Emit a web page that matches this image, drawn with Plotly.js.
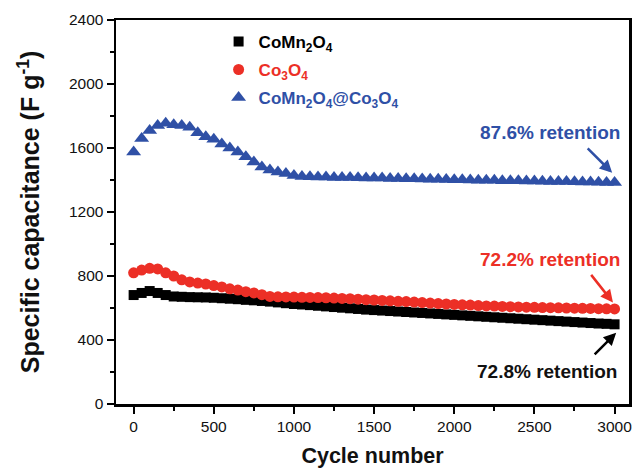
<!DOCTYPE html>
<html>
<head>
<meta charset="utf-8">
<script src="https://cdn.plot.ly/plotly-3.0.1.min.js"></script>
<style>html,body{margin:0;padding:0;background:#fff;}#chart{width:638px;height:470px;}</style>
</head>
<body>
<div id="chart"></div>
<script>
var cycles = [0,50,100,150,200,250,300,350,400,450,500,550,600,650,700,750,800,850,900,950,1000,
  1050,1100,1150,1200,1250,1300,1350,1400,1450,1500,1550,1600,1650,1700,1750,1800,1850,1900,1950,2000,
  2050,2100,2150,2200,2250,2300,2350,2400,2450,2500,2550,2600,2650,2700,2750,2800,2850,2900,2950,3000];

var comn2o4 = [681,694,706,694,681,672,670,668,667,666,664,661,658,655,651,648,644,640,635,630,625,
  622,618,614,610,606,602,598,594,590,587,584,581,578,575,572,569,566,563,560,557,
  554,551,548,545,542,539,536,533,530,527,524,521,518,515,512,509,506,503,501,498];

var co3o4 = [820,837,848,844,820,800,776,763,756,750,740,732,720,712,702,694,683,672,670,669,668,
  667,666,665,664,662,660,658,655,652,650,647,645,642,640,637,634,631,628,625,622,
  620,618,615,613,612,610,608,607,605,604,603,602,601,600,599,598,597,596,595,594];

var composite = [1575,1660,1710,1740,1755,1745,1740,1730,1695,1670,1655,1625,1600,1575,1545,1512,1482,1462,1450,1440,1428,
  1422,1420,1418,1418,1416,1415,1415,1414,1413,1412,1412,1410,1410,1408,1408,1406,1405,1405,1403,1402,
  1401,1400,1399,1398,1398,1396,1395,1395,1394,1393,1392,1391,1390,1390,1389,1388,1387,1386,1385,1384];

var seriesNames = ['CoMn<sub>2</sub>O<sub>4</sub>', 'Co<sub>3</sub>O<sub>4</sub>', 'CoMn<sub>2</sub>O<sub>4</sub>@Co<sub>3</sub>O<sub>4</sub>'];
var retentionLabels = ['72.8% retention', '72.2% retention', '87.6% retention'];

var BLACK = '#000000', RED = '#EC2F26', BLUE = '#2F50A6';
var FONT = 'Liberation Sans, Arial, sans-serif';

function span(c, t){ return '<span style="color:' + c + '">' + t + '</span>'; }

var traces = [
  {x: cycles, y: comn2o4, mode: 'markers', type: 'scatter', name: span(BLACK, seriesNames[0]), legendgroup: 'g1',
   marker: {symbol: 'square', size: 10, color: BLACK}},
  {x: cycles, y: co3o4, mode: 'markers', type: 'scatter', name: span(RED, seriesNames[1]), legendgroup: 'g2',
   marker: {symbol: 'circle', size: 11, color: RED}},
  {x: cycles, y: composite, mode: 'markers', type: 'scatter', name: span(BLUE, seriesNames[2]), legendgroup: 'g3',
   marker: {symbol: 'triangle-up', size: 13, color: BLUE}}
];

var layout = {
  width: 638, height: 470,
  margin: {l: 116, r: 9, t: 20, b: 66},
  paper_bgcolor: '#fff', plot_bgcolor: '#fff',
  font: {family: FONT, color: '#111'},
  showlegend: true,
  legend: {x: 0.2, y: 0.99, xanchor: 'left', yanchor: 'top', bgcolor: 'rgba(0,0,0,0)',
    font: {family: FONT, size: 17, weight: 'bold'}, tracegroupgap: 3},
  xaxis: {
    range: [-110, 3090], tickvals: [0,500,1000,1500,2000,2500,3000],
    showgrid: false, zeroline: false, showline: true, linecolor: '#000', linewidth: 2.5, mirror: true,
    ticks: 'outside', ticklen: 7, tickwidth: 2, tickcolor: '#000',
    minor: {ticks: 'outside', ticklen: 4, tickwidth: 2, tickcolor: '#000', dtick: 250, tick0: 0, showgrid: false},
    tickfont: {family: FONT, size: 15.5, color: '#111'},
    title: {text: 'Cycle number', font: {family: FONT, size: 21.5, weight: 'bold', color: '#111'}, standoff: 14}
  },
  yaxis: {
    range: [0, 2400], tickvals: [0,400,800,1200,1600,2000,2400],
    showgrid: false, zeroline: false, showline: true, linecolor: '#000', linewidth: 2.5, mirror: true,
    ticks: 'outside', ticklen: 7, tickwidth: 2, tickcolor: '#000',
    minor: {ticks: 'outside', ticklen: 4, tickwidth: 2, tickcolor: '#000', dtick: 200, tick0: 0, showgrid: false},
    tickfont: {family: FONT, size: 15.5, color: '#111'},
    title: {text: 'Specific capacitance (F g<sup>-1</sup>)', font: {family: FONT, size: 25, weight: 'bold', color: '#111'}, standoff: 22}
  },
  annotations: [
    {x: 2597, y: 1700, xref: 'x', yref: 'y', text: retentionLabels[2], showarrow: false,
     font: {family: FONT, size: 19, weight: 'bold', color: BLUE}},
    {x: 2600, y: 905, xref: 'x', yref: 'y', text: retentionLabels[1], showarrow: false,
     font: {family: FONT, size: 19, weight: 'bold', color: RED}},
    {x: 2580, y: 205, xref: 'x', yref: 'y', text: retentionLabels[0], showarrow: false,
     font: {family: FONT, size: 19, weight: 'bold', color: '#111'}},
    {x: 2985, y: 1445, xref: 'x', yref: 'y', text: '', showarrow: true, arrowhead: 2, arrowsize: 1, arrowwidth: 2.5,
     arrowcolor: BLUE, ax: -26, ay: -26, standoff: 0},
    {x: 2990, y: 635, xref: 'x', yref: 'y', text: '', showarrow: true, arrowhead: 2, arrowsize: 1, arrowwidth: 2.5,
     arrowcolor: RED, ax: -23, ay: -29, standoff: 0},
    {x: 3010, y: 445, xref: 'x', yref: 'y', text: '', showarrow: true, arrowhead: 2, arrowsize: 1, arrowwidth: 2.5,
     arrowcolor: '#000', ax: -23, ay: 23, standoff: 0}
  ]
};

Plotly.newPlot('chart', traces, layout, {displayModeBar: false, staticPlot: true});
</script>
</body>
</html>
